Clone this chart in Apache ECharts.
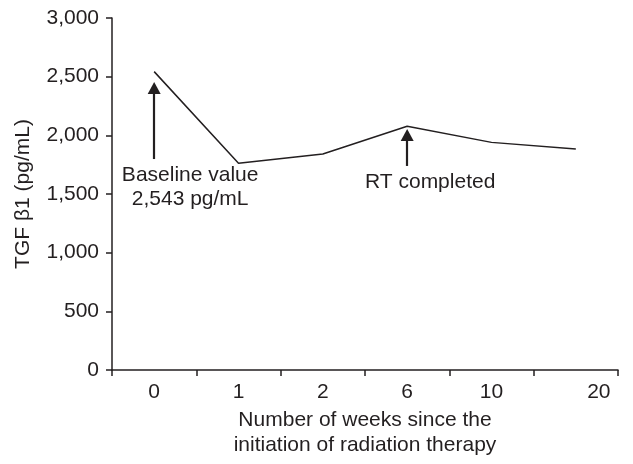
<!DOCTYPE html>
<html>
<head>
<meta charset="utf-8">
<script src="https://cdn.jsdelivr.net/npm/echarts@6/dist/echarts.min.js"></script>
<style>html,body{margin:0;padding:0;background:#fff}#c{width:633px;height:464px}</style>
</head>
<body>
<div id="c"></div>
<script>
var categories = ['0', '1', '2', '6', '10', '20'];
var tgfValues = [2543, 1762, 1841, 2078, 1940, 1884];
var yTicks = [0, 500, 1000, 1500, 2000, 2500, 3000];
var yAxisName = 'TGF \u03b21 (pg/mL)';
var xAxisName = 'Number of weeks since the\ninitiation of radiation therapy';
var baselineArrow = { cat: 0, from: 1798, to: 2403 };
var rtArrow = { cat: 3, from: 1739, to: 2003 };
var baselineText = { cat: 0, y: 1560, text: 'Baseline value\n2,543 pg/mL' };
var rtText = { cat: 3, y: 1602, text: 'RT completed' };

var ink = '#231f20';
var font = 'Liberation Sans, Arial, Helvetica, sans-serif';
var fs = 21;
var chart = echarts.init(document.getElementById('c'), null, { renderer: 'canvas' });
chart.setOption({
  animation: false,
  backgroundColor: '#ffffff',
  grid: { left: 112, right: 15, top: 18, bottom: 94, containLabel: false },
  xAxis: {
    type: 'category',
    data: categories,
    boundaryGap: true,
    name: xAxisName,
    nameLocation: 'middle',
    nameGap: 35,
    nameTextStyle: { color: ink, fontSize: fs, fontFamily: font, lineHeight: 25, verticalAlign: 'top' },
    axisLine: { lineStyle: { color: ink, width: 1.5 } },
    axisTick: { show: true, length: 6, inside: false, alignWithLabel: false, lineStyle: { color: ink, width: 1.5 } },
    axisLabel: {
      color: ink, fontSize: fs, fontFamily: font, margin: 12,
      formatter: function (v, i) { return i === categories.length - 1 ? '{r|' + v + '}' : v; },
      rich: { r: { color: ink, fontSize: fs, fontFamily: font, padding: [0, 0, 0, 46] } }
    },
    splitLine: { show: false }
  },
  yAxis: {
    type: 'value',
    min: yTicks[0],
    max: yTicks[yTicks.length - 1],
    interval: 500,
    name: yAxisName,
    nameLocation: 'middle',
    nameGap: 78,
    nameTextStyle: { color: ink, fontSize: fs, fontFamily: font },
    axisLine: { show: true, lineStyle: { color: ink, width: 1.5 } },
    axisTick: { show: true, length: 6, inside: false, lineStyle: { color: ink, width: 1.5 } },
    axisLabel: {
      color: ink, fontSize: fs, fontFamily: font, margin: 13,
      formatter: function (v) { return v.toLocaleString('en-US'); }
    },
    splitLine: { show: false }
  },
  series: [{
    type: 'line',
    data: tgfValues,
    showSymbol: false,
    symbol: 'none',
    lineStyle: { color: ink, width: 1.5 },
    markLine: {
      silent: true,
      symbol: ['none', 'triangle'],
      symbolSize: [13, 12],
      lineStyle: { color: ink, width: 2.2, type: 'solid' },
      label: { show: false },
      data: [
        [{ coord: [baselineArrow.cat, baselineArrow.from] }, { coord: [baselineArrow.cat, baselineArrow.to] }],
        [{ coord: [rtArrow.cat, rtArrow.from] }, { coord: [rtArrow.cat, rtArrow.to] }]
      ]
    },
    markPoint: {
      silent: true,
      symbol: 'circle',
      symbolSize: 0,
      itemStyle: { color: 'rgba(0,0,0,0)' },
      label: { show: true, color: ink, fontSize: fs, fontFamily: font, lineHeight: 24, position: 'inside', align: 'center', verticalAlign: 'middle' },
      data: [
        { coord: [baselineText.cat, baselineText.y], label: { formatter: baselineText.text, offset: [36, 0] } },
        { coord: [rtText.cat, rtText.y], label: { formatter: rtText.text, offset: [23, 0] } }
      ]
    }
  }]
});
</script>
</body>
</html>
